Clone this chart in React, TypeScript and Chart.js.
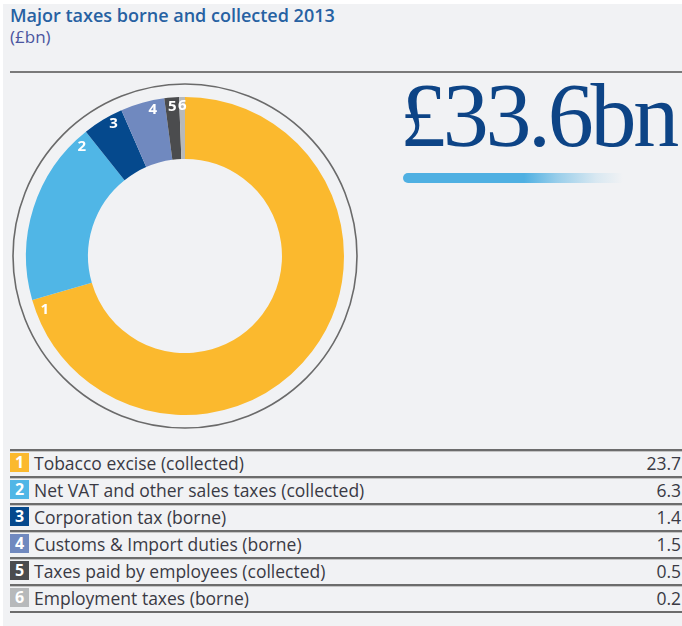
import React, { useEffect, useRef } from "react";
import { Chart, registerables } from "chart.js";

Chart.register(...registerables);

const titleText = "Major taxes borne and collected 2013";
const unitText = "(£bn)";
const totalLabel = "£33.6bn";

const categories = [
  "Tobacco excise (collected)",
  "Net VAT and other sales taxes (collected)",
  "Corporation tax (borne)",
  "Customs & Import duties (borne)",
  "Taxes paid by employees (collected)",
  "Employment taxes (borne)",
];
const values = [23.7, 6.3, 1.4, 1.5, 0.5, 0.2];
const valueLabels = ["23.7", "6.3", "1.4", "1.5", "0.5", "0.2"];
const markerLabels = ["1", "2", "3", "4", "5", "6"];
const colors = ["#fbb92e", "#50b6e6", "#05498d", "#7089bf", "#4b4c4e", "#b7b9bb"];

const FONT = '"Open Sans", "Noto Sans", sans-serif';

const ringAndLabels = {
  id: "ringAndLabels",
  beforeDatasetsDraw(chart: any) {
    const meta = chart.getDatasetMeta(0);
    const arc = meta.data[0];
    if (!arc) return;
    const p = arc.getProps(["x", "y", "outerRadius"], true);
    const ctx = chart.ctx;
    ctx.save();
    ctx.beginPath();
    ctx.arc(p.x, p.y, p.outerRadius + 13, 0, Math.PI * 2);
    ctx.strokeStyle = "#6a6a6a";
    ctx.lineWidth = 1.6;
    ctx.stroke();
    ctx.restore();
  },
  afterDatasetsDraw(chart: any) {
    const meta = chart.getDatasetMeta(0);
    const ctx = chart.ctx;
    ctx.save();
    ctx.fillStyle = "#ffffff";
    ctx.font = `bold 15px ${FONT}`;
    ctx.textAlign = "center";
    ctx.textBaseline = "middle";
    meta.data.forEach((el: any, i: number) => {
      const p = el.getProps(["x", "y", "startAngle", "endAngle", "outerRadius"], true);
      const span = p.endAngle - p.startAngle;
      const a = p.endAngle - Math.min(0.085, span / 2);
      const r = p.outerRadius - 9;
      ctx.fillText(markerLabels[i], p.x + Math.cos(a) * r, p.y + Math.sin(a) * r);
    });
    ctx.restore();
  },
};

function Donut() {
  const ref = useRef<HTMLCanvasElement>(null);
  useEffect(() => {
    if (!ref.current) return;
    const chart = new Chart(ref.current, {
      type: "doughnut",
      data: {
        labels: categories,
        datasets: [
          {
            data: values,
            backgroundColor: colors,
            borderWidth: 0,
            offset: 0,
            hoverOffset: 0,
            spacing: 0,
          },
        ],
      },
      options: {
        responsive: false,
        animation: false,
        cutout: "61%",
        rotation: 0,
        layout: { padding: 21 },
        plugins: {
          legend: { display: false },
          tooltip: { enabled: false },
          title: { display: false },
        },
      },
      plugins: [ringAndLabels],
    });
    return () => chart.destroy();
  }, []);
  return (
    <canvas
      ref={ref}
      width={360}
      height={360}
      style={{ position: "absolute", left: 5, top: 76, width: 360, height: 360 }}
    />
  );
}

export default function App() {
  useEffect(() => {
    document.body.style.margin = "0";
    document.body.style.background = "#ffffff";
  }, []);
  return (
    <div
      style={{
        position: "relative",
        width: 682,
        height: 626,
        overflow: "hidden",
        background: "#ffffff",
        fontFamily: FONT,
      }}
    >
      <div
        style={{
          position: "absolute",
          left: 3,
          top: 4,
          right: 0,
          bottom: 0,
          background: "#f1f2f4",
        }}
      />
      <div
        style={{
          position: "absolute",
          left: 10,
          top: 5,
          fontSize: 18,
          fontWeight: 600,
          color: "#2661a2",
          lineHeight: "21px",
          whiteSpace: "nowrap",
        }}
      >
        {titleText}
        <br />
        <span style={{ fontWeight: 400, color: "#4a55a0", fontSize: 17 }}>{unitText}</span>
      </div>
      <div
        style={{
          position: "absolute",
          left: 10,
          right: 0,
          top: 71,
          height: 2,
          background: "#7a7a7a",
        }}
      />
      <Donut />
      <div
        style={{
          position: "absolute",
          left: 400,
          top: 65,
          fontFamily: '"Liberation Serif", serif',
          fontSize: 92,
          lineHeight: "100px",
          color: "#0d4486",
          letterSpacing: -3.3,
          whiteSpace: "nowrap",
        }}
      >
        {totalLabel}
      </div>
      <div
        style={{
          position: "absolute",
          left: 403,
          top: 173,
          width: 220,
          height: 10,
          borderRadius: "5px 2px 2px 5px",
          background:
            "linear-gradient(90deg, #4fb0e2 0%, #4fb0e2 55%, rgba(79,176,226,0.55) 70%, rgba(79,176,226,0.15) 88%, rgba(79,176,226,0) 100%)",
        }}
      />
      <div style={{ position: "absolute", left: 10, right: 0, top: 449 }}>
        {categories.map((c, i) => (
          <div
            key={c}
            style={{
              position: "relative",
              height: 27,
              boxSizing: "border-box",
              borderTop: "2px solid #6c6c6c",
            }}
          >
            <div style={{ position: "absolute", left: 0, right: 0, top: 0, height: 1, background: "#c4c4c4" }} />
            <div
              style={{
                position: "absolute",
                left: 0,
                top: 2,
                width: 19,
                height: 19,
                background: colors[i],
                color: "#ffffff",
                fontWeight: 700,
                fontSize: 16,
                lineHeight: "19px",
                textAlign: "center",
              }}
            >
              {markerLabels[i]}
            </div>
            <div
              style={{
                position: "absolute",
                left: 24,
                top: 0,
                fontSize: 17.5,
                lineHeight: "24px",
                color: "#3a3a44",
                whiteSpace: "nowrap",
              }}
            >
              {c}
            </div>
            <div
              style={{
                position: "absolute",
                right: 1,
                top: 0,
                fontSize: 17.5,
                lineHeight: "24px",
                color: "#3a3a44",
              }}
            >
              {valueLabels[i]}
            </div>
          </div>
        ))}
        <div style={{ height: 2, background: "#6c6c6c" }} />
      </div>
    </div>
  );
}
